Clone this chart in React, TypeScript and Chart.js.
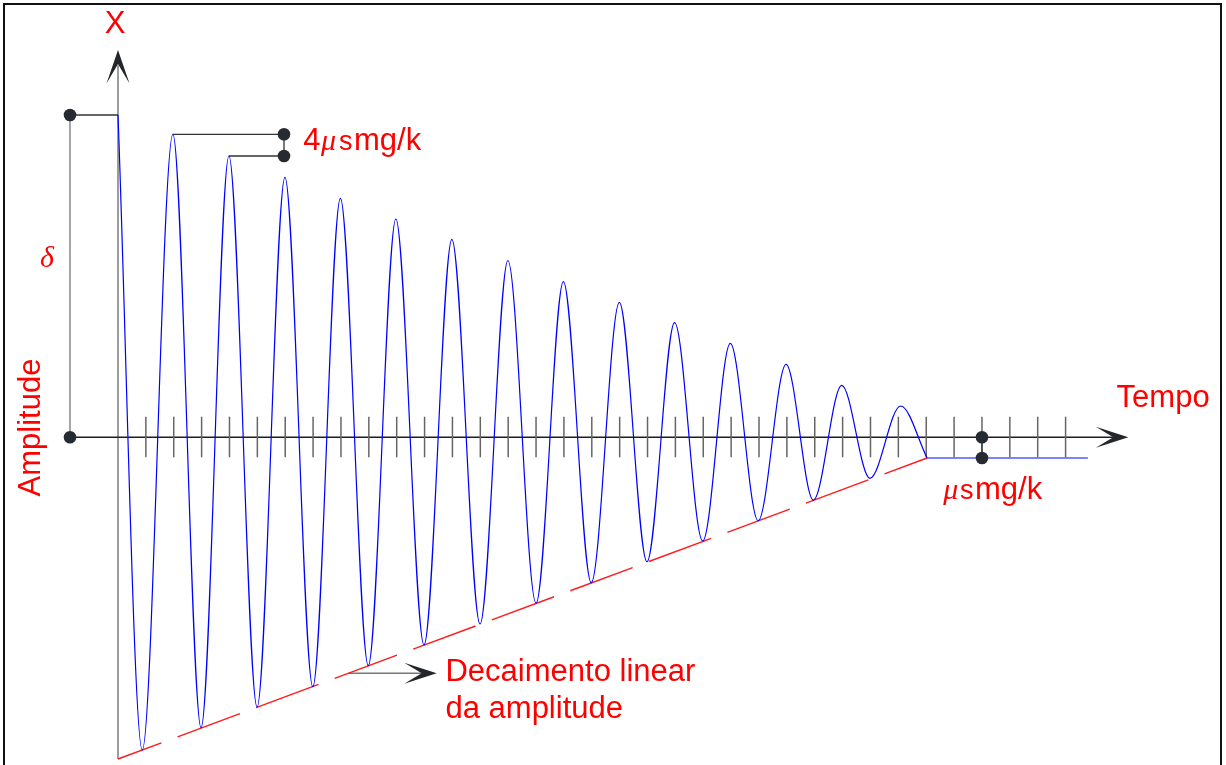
import { useEffect, useRef } from "react";
import { Chart, registerables } from "chart.js";

Chart.register(...registerables);

// Time axis in tick units (0 = vertical axis), amplitude in drawing units (0 = time axis)
const curveTimes = [
  0, 0.87, 1.97, 2.98, 3.98, 4.99, 5.99, 6.99, 7.98, 8.98, 9.97, 10.98, 11.98, 12.99,
  13.99, 15.0, 15.98, 16.98, 17.99, 18.98, 19.97, 20.98, 21.97, 22.97, 23.97, 24.95,
  25.97, 26.98, 28.08, 29.03,
];
const curveAmps = [
  322.3, -312.7, 303, -290.4, 281.3, -269.7, 260, -249.4, 239, -228.4, 218.3, -207.7,
  198, -186.7, 176.8, -166, 155.6, -145.4, 135, -124.4, 114.6, -103.7, 94, -83.4, 73,
  -62.7, 52, -41, 31.3, -20.7,
];
const restTimes = [29.03, 34.8];
const restAmps = [-20.7, -20.7];
const decayTimes = [0, 29.03];
const decayAmps = [-321.7, -20.7];
const tickTimes = [
  1, 2, 3, 4, 5, 6, 7, 8, 9, 10, 11, 12, 13, 14, 15, 16, 17, 18, 19, 20, 21, 22, 23,
  24, 25, 26, 27, 28, 29, 30, 31, 32, 33, 34,
];

const LBL_X = "X";
const LBL_TEMPO = "Tempo";
const LBL_AMP = "Amplitude";
const LBL_DELTA = "\u03b4";
const LBL_MU = "\u03bc";
const LBL_S = "s";
const LBL_MGK = "mg/k";
const LBL_FOUR = "4";
const LBL_DEC1 = "Decaimento linear";
const LBL_DEC2 = "da amplitude";

const toXY = (ts: number[], as: number[]) => ts.map((t, i) => ({ x: t, y: as[i] }));

const SANS = '"Liberation Sans", Arial, sans-serif';
const SERIF = '"Liberation Serif", "Times New Roman", serif';

const diagramPlugin = {
  id: "diagram",
  beforeDatasetsDraw(chart: any) {
    const { ctx } = chart;
    const xs = chart.scales.x;
    const ys = chart.scales.y;
    const X = (t: number) => xs.getPixelForValue(t);
    const Y = (a: number) => ys.getPixelForValue(a);
    const line = (t1: number, a1: number, t2: number, a2: number) => {
      ctx.beginPath();
      ctx.moveTo(X(t1), Y(a1));
      ctx.lineTo(X(t2), Y(a2));
      ctx.stroke();
    };
    ctx.save();
    // frame
    ctx.strokeStyle = "#111";
    ctx.lineWidth = 2;
    ctx.strokeRect(4, 4, chart.width - 9, chart.height + 20);
    // vertical axis
    ctx.strokeStyle = "#7c7c7c";
    ctx.lineWidth = 1.5;
    line(0, -321.7, 0, 372);
    // time axis
    ctx.strokeStyle = "#1e1e1e";
    ctx.lineWidth = 1.4;
    line(-1.722, 0, 35.7, 0);
    // ticks
    ctx.strokeStyle = "#666";
    ctx.lineWidth = 1.5;
    tickTimes.forEach((t) => line(t, 20.6, t, -20));
    // delta bracket
    ctx.strokeStyle = "#888";
    ctx.lineWidth = 1.5;
    line(-1.722, 322.3, -1.722, 0);
    ctx.strokeStyle = "#333";
    ctx.lineWidth = 1.3;
    line(-1.722, 322.3, 0, 322.3);
    // 4 mu leaders
    line(1.97, 303, 5.956, 303);
    line(3.98, 281.3, 5.956, 281.3);
    line(5.956, 303, 5.956, 281.3);
    // rest bracket
    line(31.0, 0, 31.0, -20.7);
    // decay pointer
    ctx.strokeStyle = "#777";
    ctx.lineWidth = 1.5;
    line(8.27, -236, 11.0, -236);
    ctx.restore();
  },
  afterDatasetsDraw(chart: any) {
    const { ctx } = chart;
    const xs = chart.scales.x;
    const ys = chart.scales.y;
    const X = (t: number) => xs.getPixelForValue(t);
    const Y = (a: number) => ys.getPixelForValue(a);
    ctx.save();
    // arrow heads (dir: 'up' or 'right')
    const arrow = (t: number, a: number, dir: string) => {
      const px = X(t);
      const py = Y(a);
      ctx.fillStyle = "#23262b";
      ctx.beginPath();
      if (dir === "up") {
        ctx.moveTo(px, py);
        ctx.lineTo(px + 11.5, py + 33.5);
        ctx.lineTo(px, py + 14);
        ctx.lineTo(px - 11.5, py + 33.5);
      } else {
        ctx.moveTo(px, py);
        ctx.lineTo(px - 32.5, py - 10.5);
        ctx.lineTo(px - 15, py);
        ctx.lineTo(px - 32.5, py + 10.5);
      }
      ctx.closePath();
      ctx.fill();
    };
    arrow(0, 387.3, "up");
    arrow(36.25, 0, "right");
    arrow(11.435, -236, "right");
    // dots
    const dot = (t: number, a: number) => {
      ctx.fillStyle = "#262a31";
      ctx.beginPath();
      ctx.arc(X(t), Y(a), 6.3, 0, Math.PI * 2);
      ctx.fill();
    };
    dot(-1.722, 322.3);
    dot(-1.722, 0);
    dot(5.956, 303);
    dot(5.956, 281.3);
    dot(31.0, 0);
    dot(31.0, -20.7);
    // texts
    ctx.fillStyle = "#ff0000";
    ctx.textBaseline = "alphabetic";
    ctx.textAlign = "center";
    ctx.font = `31px ${SANS}`;
    ctx.fillText(LBL_X, X(-0.108), Y(404));
    ctx.textAlign = "left";
    ctx.fillText(LBL_TEMPO, X(35.83), Y(30.6));
    ctx.fillText(LBL_FOUR, X(6.649), Y(287.3));
    ctx.fillText(LBL_MGK, X(8.468), Y(287.3));
    ctx.fillText(LBL_MGK, X(30.75), Y(-62));
    ctx.fillText(LBL_DEC1, X(11.75), Y(-243.4));
    ctx.fillText(LBL_DEC2, X(11.75), Y(-281));
    ctx.font = `27px ${SANS}`;
    ctx.fillText(LBL_S, X(7.93), Y(287.3));
    ctx.fillText(LBL_S, X(30.21), Y(-62));
    ctx.font = `italic 30px ${SERIF}`;
    ctx.fillText(LBL_MU, X(7.28), Y(287.3));
    ctx.fillText(LBL_MU, X(29.61), Y(-62));
    ctx.textAlign = "center";
    ctx.fillText(LBL_DELTA, X(-2.548), Y(170.3));
    // rotated axis title
    ctx.font = `31px ${SANS}`;
    ctx.translate(X(-2.799), Y(9.8));
    ctx.rotate(-Math.PI / 2);
    ctx.textAlign = "center";
    ctx.fillText(LBL_AMP, 0, 0);
    ctx.restore();
  },
};

export default function App() {
  const ref = useRef<HTMLCanvasElement | null>(null);
  useEffect(() => {
    document.body.style.margin = "0";
    const canvas = ref.current;
    if (!canvas) return;
    const chart = new Chart(canvas, {
      type: "line",
      data: {
        datasets: [
          {
            data: toXY(curveTimes, curveAmps),
            borderColor: "#0000ff",
            borderWidth: 1.2,
            cubicInterpolationMode: "monotone",
            pointRadius: 0,
            fill: false,
          },
          {
            data: toXY(restTimes, restAmps),
            borderColor: "#4a5eff",
            borderWidth: 1.6,
            pointRadius: 0,
            tension: 0,
            fill: false,
          },
          {
            data: toXY(decayTimes, decayAmps),
            borderColor: "#ff1a1a",
            borderWidth: 1.4,
            borderDash: [66.5, 17.3],
            borderDashOffset: 20.2,
            pointRadius: 0,
            tension: 0,
            fill: false,
          },
        ],
      },
      options: {
        responsive: false,
        animation: false,
        devicePixelRatio: 1,
        layout: { padding: 0 },
        plugins: {
          legend: { display: false },
          tooltip: { enabled: false },
          title: { display: false },
        },
        scales: {
          x: { type: "linear", min: -118 / 27.87, max: (1226 - 118) / 27.87, display: false },
          y: { type: "linear", min: 437.3 - 765, max: 437.3, display: false },
        },
      },
      plugins: [diagramPlugin],
    } as any);
    return () => chart.destroy();
  }, []);
  return (
    <canvas ref={ref} width={1226} height={765} style={{ display: "block", background: "#fff" }} />
  );
}
